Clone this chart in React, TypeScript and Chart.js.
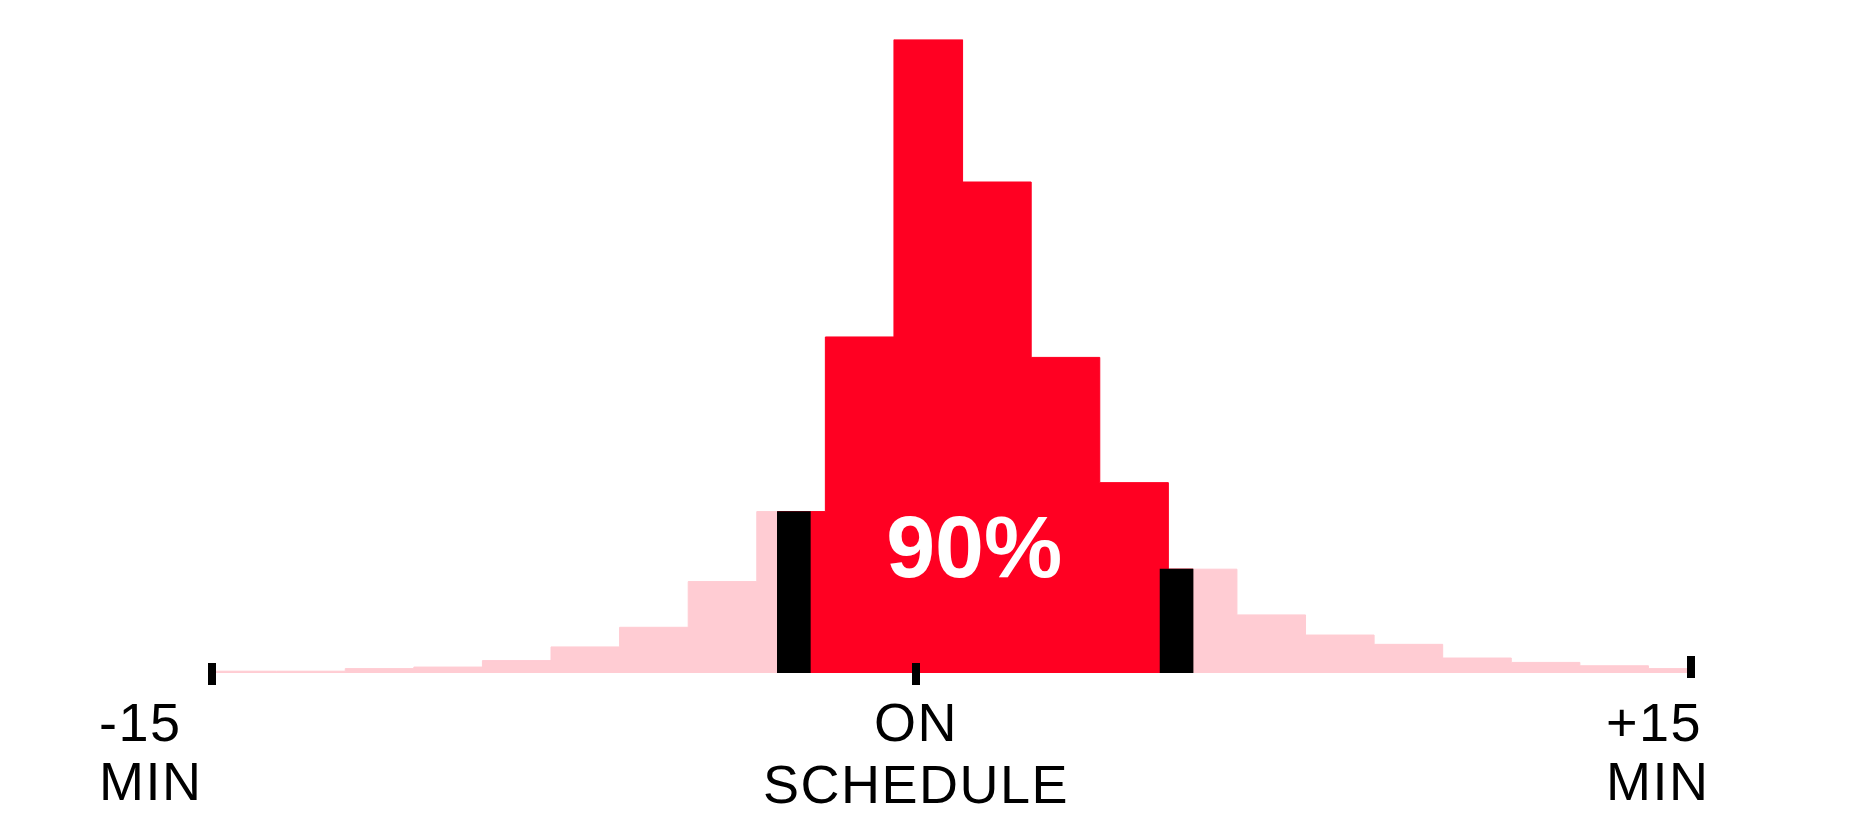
import { useEffect, useRef } from "react";
import { Chart, registerables } from "chart.js";

Chart.register(...registerables);

// Histogram bins (bin index units; bin i spans [i, i+1])
const binEdges = [0, 1, 2, 3, 4, 5, 6, 7, 8, 9, 10, 11, 12, 13, 14, 15, 16, 17, 18, 19, 20, 21, 22];
// Share of trips in each bin (%)
const binShares = [
  0.07, 0.07, 0.17, 0.23, 0.48, 1.01, 1.77, 3.54, 6.25, 13.01, 24.53,
  19.01, 12.22, 7.37, 4.02, 2.25, 1.47, 1.11, 0.58, 0.41, 0.28, 0.17,
];
// 90% interval bounds (bin units)
const intervalBounds = [8.3, 14.36];
const intervalShare = 90;
// Axis tick positions (bin units) and their labels
const tickPositions = [0.05, 10.32, 21.62];
const tickLabels = [
  ["-15", "MIN"],
  ["ON", "SCHEDULE"],
  ["+15", "MIN"],
];

const PINK = "#FFCCD3";
const RED = "#FF0022";
const FONT = '"Liberation Sans", Arial, Helvetica, sans-serif';

function shareAt(x: number): number {
  const i = Math.min(binShares.length - 1, Math.max(0, Math.floor(x)));
  return binShares[i];
}

export default function App() {
  const canvasRef = useRef<HTMLCanvasElement | null>(null);

  useEffect(() => {
    const canvas = canvasRef.current;
    if (!canvas) return;

    const pinkData = binEdges.map((e, i) => ({ x: e, y: binShares[Math.min(i, binShares.length - 1)] }));

    const [lo, hi] = intervalBounds;
    const redData: { x: number; y: number }[] = [{ x: lo, y: shareAt(lo) }];
    binEdges.forEach((e) => {
      if (e > lo && e < hi) redData.push({ x: e, y: shareAt(e) });
    });
    redData.push({ x: hi, y: shareAt(hi - 1e-6) });

    const markerHalf = 0.24;
    const markerData = [
      { x: lo + markerHalf, y: shareAt(lo) },
      { x: hi - markerHalf, y: shareAt(hi - 1e-6) },
    ];

    const annotationPlugin = {
      id: "annotations",
      afterDraw(chart: any) {
        const ctx = chart.ctx as CanvasRenderingContext2D;
        const xs = chart.scales.x;
        const ys = chart.scales.y;
        const base = ys.getPixelForValue(0);
        ctx.save();
        // tick marks
        const tickTop = [-10, -10, -17];
        tickPositions.forEach((t, i) => {
          const px = xs.getPixelForValue(t);
          ctx.fillStyle = "#000";
          ctx.fillRect(Math.round(px - 4), Math.round(base + tickTop[i]), 8, 22);
        });
        // tick labels
        ctx.fillStyle = "#000";
        ctx.font = `54px ${FONT}`;
        ctx.textBaseline = "alphabetic";
        try {
          (ctx as any).letterSpacing = "1.5px";
        } catch (e) {}
        const cfg = [
          { align: "left", dx: -112.5, lines: [68, 127] },
          { align: "center", dx: 0, lines: [68, 130] },
          { align: "left", dx: -85, lines: [68, 127] },
        ];
        tickPositions.forEach((t, i) => {
          const px = xs.getPixelForValue(t);
          ctx.textAlign = cfg[i].align as CanvasTextAlign;
          tickLabels[i].forEach((line, j) => {
            ctx.fillText(line, px + cfg[i].dx, base + cfg[i].lines[j]);
          });
        });
        // interval share label
        try {
          (ctx as any).letterSpacing = "0px";
        } catch (e) {}
        ctx.fillStyle = "#fff";
        ctx.font = `bold 88px ${FONT}`;
        ctx.textAlign = "center";
        ctx.fillText(`${intervalShare}%`, xs.getPixelForValue(11.17), base - 96);
        ctx.restore();
      },
    };

    const chart = new Chart(canvas, {
      type: "line",
      data: {
        datasets: [
          {
            type: "bar",
            data: markerData,
            backgroundColor: "#000",
            borderWidth: 0,
            barThickness: 33,
            order: 0,
          } as any,
          {
            data: redData,
            stepped: "before",
            fill: "origin",
            backgroundColor: RED,
            borderColor: RED,
            borderWidth: 1,
            pointRadius: 0,
            tension: 0,
            order: 1,
          },
          {
            data: pinkData,
            stepped: "before",
            fill: "origin",
            backgroundColor: PINK,
            borderColor: PINK,
            borderWidth: 1,
            pointRadius: 0,
            tension: 0,
            order: 2,
          },
        ],
      },
      options: {
        responsive: false,
        devicePixelRatio: 1,
        animation: false,
        layout: { padding: { left: 211.5, right: 185, top: 39.5, bottom: 161 } },
        scales: {
          x: {
            type: "linear",
            min: tickPositions[0],
            max: tickPositions[tickPositions.length - 1],
            display: false,
            offset: false,
            grid: { display: false },
          },
          y: {
            type: "linear",
            min: 0,
            max: Math.max(...binShares),
            display: false,
            grid: { display: false },
          },
        },
        plugins: {
          legend: { display: false },
          tooltip: { enabled: false },
        },
      },
      plugins: [annotationPlugin],
    });

    return () => chart.destroy();
  }, []);

  return (
    <div
      style={{
        position: "fixed",
        left: 0,
        top: 0,
        width: 1876,
        height: 834,
        background: "#fff",
      }}
    >
      <canvas ref={canvasRef} width={1876} height={834} style={{ display: "block" }} />
    </div>
  );
}
